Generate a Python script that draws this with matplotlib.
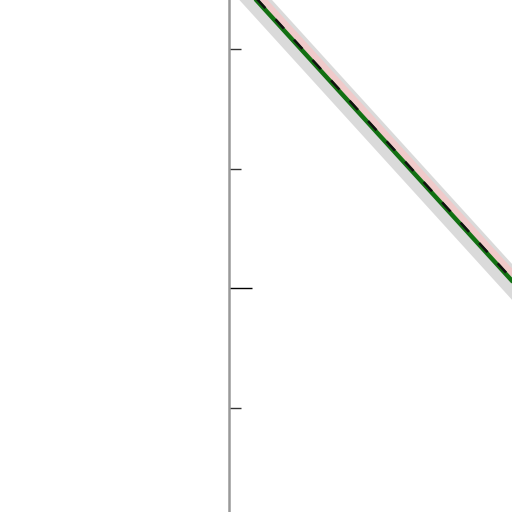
import matplotlib
matplotlib.use("Agg")
import matplotlib.pyplot as plt
from matplotlib.ticker import MultipleLocator, NullFormatter

# data
x_vals = [0.0, 11.0]
band_lo = [2.51, -0.36]
band_hi = [2.81, -0.06]
pink_y = [2.726, -0.140]
green_y = [2.665, -0.200]
black_y = [2.68, -0.186]

fig = plt.figure(figsize=(5.12, 5.12), dpi=100)
ax = fig.add_axes([228.5 / 512, 0, 1 - 228.5 / 512, 1])

ax.fill_between(x_vals, band_lo, band_hi, color="#dadada", lw=0, zorder=1)
ax.plot(x_vals, pink_y, color="#f0caca", lw=5, solid_capstyle="butt", zorder=2)
ax.plot(x_vals, green_y, color="#127012", lw=3.2, solid_capstyle="butt", zorder=3)
ax.plot(x_vals, black_y, color="#111111", lw=1.8, ls=(0, (5, 6)), zorder=4)

ax.set_xlim(0, 10)
ax.set_ylim(-1.874, 2.41)

for s in ["top", "right", "bottom"]:
    ax.spines[s].set_visible(False)
ax.spines["left"].set_color("#999999")
ax.spines["left"].set_linewidth(1.8)

ax.set_xticks([])
ax.yaxis.set_major_locator(MultipleLocator(5))
ax.yaxis.set_minor_locator(MultipleLocator(1))
ax.yaxis.set_major_formatter(NullFormatter())
ax.yaxis.set_minor_formatter(NullFormatter())
ax.tick_params(axis="y", which="major", direction="in", length=16.5, width=1.0, color="black")
ax.tick_params(axis="y", which="minor", direction="in", length=8.6, width=1.0, color="#333333")

fig.savefig("out.png", dpi=100)
